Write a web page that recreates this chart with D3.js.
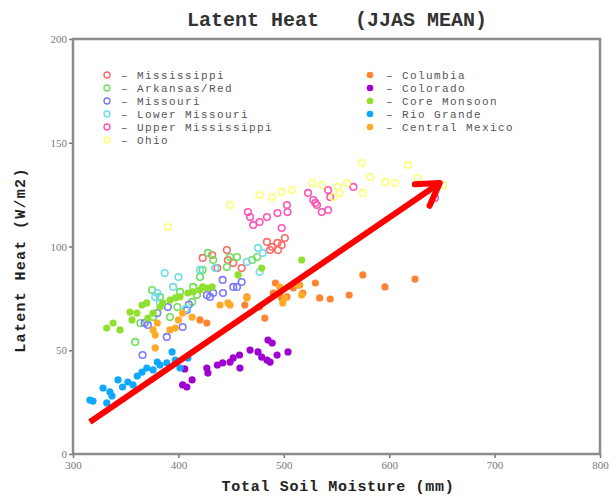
<!DOCTYPE html>
<html>
<head>
<meta charset="utf-8">
<script src="https://cdn.jsdelivr.net/npm/d3@7"></script>
<style>
  body { margin: 0; background: #fff; }
  text { font-family: "Liberation Mono", "DejaVu Sans Mono", monospace; }
</style>
</head>
<body>
<div class="chart"></div>
<script>
// soil moisture (mm), latent heat (W/m2) pairs per basin
var mississippi = [[423,94.5],[432,95.9],[446,98.3],[447,93.5],[452,92],[460,89.6],[437,89.6],[484,102.2],[489,99.8],[494,101.7],[498,100.7],[487,98.3],[494.5,98.3],[501,104.1]];
var arkansasRed = [[359,54],[364,63.1],[375,79],[376,66],[382.5,75.7],[392,66],[399,70.8],[401.5,78.1],[413,73.3],[414,80.5],[417.6,76.6],[420.5,85.3],[423,88.7],[428,96.9],[433,93.5],[446,90.1],[449,94.9],[455.6,94.9],[470,93.5],[474.6,94.9]];
var missouri = [[366,47.7],[368,63.1],[371,62.2],[380,67.9],[389,56.4],[390,70.8],[404,61.2],[408,69.4],[410,72],[427,76.6],[430,75.7],[433,77.6],[442,83.9],[442.3,77.6],[452,80.5],[455.6,80.5],[460,82.9]];
var lowerMissouri = [[378,75.7],[380,77.6],[382.5,72.8],[387,87.2],[395,80.5],[400,85.3],[407,70],[420.5,88.7],[435,89.6],[465,92.5],[475.5,99.3],[477,87.7],[480,96.9]];
var upperMississippi = [[466,116.6],[468,114.2],[471,110.4],[477,111.8],[484,114.2],[494,116.1],[503,120],[503.5,116.6],[498,108.9],[523,125.8],[528,122.4],[531.5,120],[542,127.2],[542,117.6],[544,123.8],[530,121],[536,116.6],[566,128.7],[643.5,123.4]];
var ohio = [[390,109.4],[449,120],[477,124.8],[489,123.8],[498,126.3],[508,127.2],[527,130.6],[536,129.6],[551,128.7],[553,125.8],[560,130.6],[574,140.2],[582,133.5],[575,125.8],[596,131.1],[605.5,130.6],[618,139.3],[627,133],[651,129.6],[547,123.8]];
var columbia = [[420.5,64.6],[427,63.1],[463,71.8],[465,75.7],[477,70.8],[482,65.5],[490,77.6],[492,82.4],[498,75.2],[503,75.7],[509,80],[515,81.4],[518,77.6],[530,82.4],[534,75.2],[544,74.7],[562,76.6],[575,86.3],[596,80.5],[624.5,84.3]];
var colorado = [[406,41],[408,32.3],[404,33.3],[413,35.7],[427,41.4],[428,39],[437,42.9],[442,43.9],[449,44.3],[452,46.3],[458,47.7],[458.4,41.4],[468,50.1],[475.5,49.2],[479,46.7],[485,54.9],[489,53.5],[484,45.3],[487,44.3],[493.6,47.7],[504,49.2]];
var coreMonsoon = [[332,60.7],[338,63.1],[344.6,59.8],[354,68.4],[356,64.6],[360.7,67.9],[365.5,71.8],[370,72.8],[371,65.5],[376,67.9],[382.5,70.8],[385,72.8],[392,74.2],[397,75.2],[401.5,75.7],[409,77.6],[414,78.1],[420.5,79],[423,80.5],[427,80],[432,80.5],[456.6,86.3],[479,89.6],[517,93.5]];
var rioGrande = [[316,26],[319,25.5],[328.5,31.8],[335,29.9],[342.7,35.7],[347,32.3],[352,34.7],[357,33.3],[332,24.6],[337,28],[361,37.6],[365.5,39.5],[370,41.4],[376,40.5],[380,44.3],[382.5,42.9],[389,43.9],[394,49.2],[397,45.3],[401.5,41.4],[409,46.3]];
var centralMexico = [[378,51.1],[376,59.8],[378,57.3],[380,63.1],[392,59.8],[397,60.7],[400,64.6],[404,67.9],[413,66],[439.5,71.8],[447,72.8],[449,71.8],[465,75.2],[496,80.5],[501,75.2],[499,72.8],[517,76.6],[513.5,81.4]];

var openNames = ["Mississippi", "Arkansas/Red", "Missouri", "Lower Missouri", "Upper Mississippi", "Ohio"];
var openColors = ["#ff6a6a", "#6ee05a", "#7a7aff", "#6fdcec", "#ff55b4", "#ffff70"];
var openData = [mississippi, arkansasRed, missouri, lowerMissouri, upperMississippi, ohio];

var filledNames = ["Columbia", "Colorado", "Core Monsoon", "Rio Grande", "Central Mexico"];
var filledColors = ["#ff8330", "#a000d0", "#90e030", "#10a8ff", "#ffab28"];
var filledData = [columbia, colorado, coreMonsoon, rioGrande, centralMexico];

var xTicks = [300, 400, 500, 600, 700, 800];
var yTicks = [0, 50, 100, 150, 200];

// annotation arrow, in data units
var arrowStart = [316, 15.4];
var arrowEnd = [648, 130.6];

var svgWidth = 616;
var svgHeight = 496;
var plot = { left: 73, right: 600, top: 39, bottom: 454 };

var svg = d3.select('.chart')
  .append('svg')
  .attr('width', svgWidth)
  .attr('height', svgHeight);

var xScale = d3.scaleLinear().domain([300, 800]).range([plot.left, plot.right]);
var yScale = d3.scaleLinear().domain([0, 200]).range([plot.bottom, plot.top]);

// axes
var xAxis = d3.axisBottom(xScale).tickValues(xTicks).tickSize(4).tickPadding(3);
var yAxis = d3.axisLeft(yScale).tickValues(yTicks).tickSize(4).tickPadding(2);

var gx = svg.append('g')
  .attr('transform', 'translate(0,' + plot.bottom + ')')
  .call(xAxis);
var gy = svg.append('g')
  .attr('transform', 'translate(' + plot.left + ',0)')
  .call(yAxis);

[gx, gy].forEach(function (g) {
  g.select('.domain').remove();
  g.selectAll('.tick line').attr('stroke', '#777').attr('stroke-width', 1.5);
  g.selectAll('.tick text')
    .attr('fill', '#777')
    .style('font-family', '"Liberation Serif", serif')
    .style('font-size', '11px');
});

// frame
svg.append('rect')
  .attr('x', plot.left)
  .attr('y', plot.top)
  .attr('width', plot.right - plot.left)
  .attr('height', plot.bottom - plot.top)
  .attr('fill', 'none')
  .attr('stroke', '#8c8c8c')
  .attr('stroke-width', 2.5);

// open markers
openData.forEach(function (series, i) {
  svg.append('g').selectAll('circle')
    .data(series)
    .enter()
    .append('circle')
    .attr('cx', function (d) { return xScale(d[0]); })
    .attr('cy', function (d) { return yScale(d[1]); })
    .attr('r', 3.3)
    .attr('fill', 'none')
    .attr('stroke', openColors[i])
    .attr('stroke-width', 1.6);
});

// filled markers
filledData.forEach(function (series, i) {
  svg.append('g').selectAll('circle')
    .data(series)
    .enter()
    .append('circle')
    .attr('cx', function (d) { return xScale(d[0]); })
    .attr('cy', function (d) { return yScale(d[1]); })
    .attr('r', 3.6)
    .attr('fill', filledColors[i]);
});

// legend
var legend = svg.append('g');
openNames.forEach(function (name, i) {
  var y = 75 + i * 13;
  legend.append('circle')
    .attr('cx', 107).attr('cy', y).attr('r', 3)
    .attr('fill', 'none').attr('stroke', openColors[i]).attr('stroke-width', 1.4);
  legend.append('text')
    .attr('x', 121).attr('y', y + 4)
    .attr('fill', '#555')
    .style('font-size', '11px')
    .style('letter-spacing', '1.4px')
    .style('white-space', 'pre')
    .text('\u2013 ' + name);
});
filledNames.forEach(function (name, i) {
  var y = 75 + i * 13;
  legend.append('circle')
    .attr('cx', 370).attr('cy', y).attr('r', 3.3)
    .attr('fill', filledColors[i]);
  legend.append('text')
    .attr('x', 386).attr('y', y + 4)
    .attr('fill', '#555')
    .style('font-size', '11px')
    .style('letter-spacing', '1.4px')
    .style('white-space', 'pre')
    .text('\u2013 ' + name);
});

// red arrow
var x0 = xScale(arrowStart[0]), y0 = yScale(arrowStart[1]);
var x1 = xScale(arrowEnd[0]), y1 = yScale(arrowEnd[1]);
var ang = Math.atan2(y1 - y0, x1 - x0);
var headLen = 25, headAng = 0.55;
svg.append('line')
  .attr('x1', x0).attr('y1', y0).attr('x2', x1).attr('y2', y1)
  .attr('stroke', '#ff0000').attr('stroke-width', 6);
svg.append('path')
  .attr('d', 'M' + (x1 - headLen * Math.cos(ang - headAng)) + ',' + (y1 - headLen * Math.sin(ang - headAng)) +
    'L' + x1 + ',' + y1 +
    'L' + (x1 - headLen * Math.cos(ang + headAng)) + ',' + (y1 - headLen * Math.sin(ang + headAng)))
  .attr('fill', 'none')
  .attr('stroke', '#ff0000')
  .attr('stroke-width', 6)
  .attr('stroke-linecap', 'round')
  .attr('stroke-linejoin', 'round');

// titles
svg.append('text')
  .attr('x', 337).attr('y', 26)
  .attr('text-anchor', 'middle')
  .attr('fill', '#333')
  .style('font-size', '20px')
  .style('font-weight', 'bold')
  .style('white-space', 'pre')
  .text('Latent Heat   (JJAS MEAN)');

svg.append('text')
  .attr('x', 338).attr('y', 491)
  .attr('text-anchor', 'middle')
  .attr('fill', '#222')
  .style('font-size', '15px')
  .style('font-weight', 'bold')
  .style('letter-spacing', '0.7px')
  .text('Total Soil Moisture (mm)');

svg.append('text')
  .attr('transform', 'translate(25,260) rotate(-90)')
  .attr('text-anchor', 'middle')
  .attr('fill', '#222')
  .style('font-size', '15px')
  .style('font-weight', 'bold')
  .style('letter-spacing', '1.3px')
  .text('Latent Heat (W/m2)');
</script>
</body>
</html>
